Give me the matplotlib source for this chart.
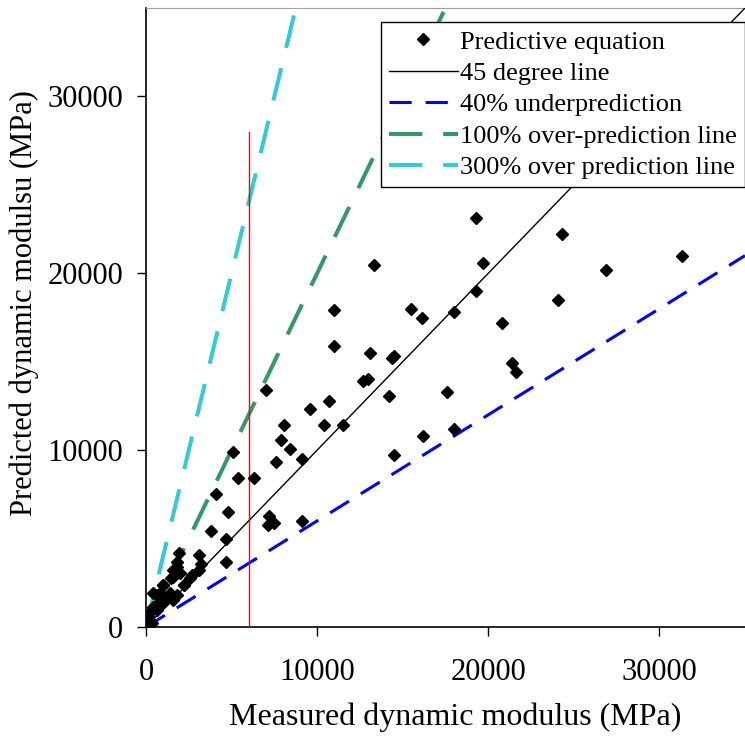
import matplotlib
matplotlib.use("Agg")
import matplotlib.pyplot as plt
import numpy as np

plt.rcParams['font.family'] = ['Liberation Serif', 'DejaVu Serif']
plt.rcParams['lines.scale_dashes'] = False

# measured vs predicted dynamic modulus (MPa)
measured = [
    19300, 24300, 31300, 26900, 19700, 13300, 19300, 11000, 15500, 16100,
    18000, 20800, 24100, 11000, 13100, 14500, 14400, 21400, 21600, 12700,
    13000, 7000, 10700, 9600, 14200, 17600, 8050, 10400, 11500, 7900,
    8400, 9100, 7600, 5100, 16200, 18000, 14500, 5400, 6300, 4100,
    4800, 7200, 7100, 7500, 9100, 3800, 4700, 4700, 1900, 1800,
    3100, 1600, 2000, 3200, 3100, 2700, 1450, 1000, 2200,
    1800, 1600, 1000, 2200, 2600, 430, 820, 1200, 1500, 1600,
    820, 430, 230, 130, 40, 20, 330, 620, 1000, 1400, 1800, 620, 900,
]
predicted = [
    23100, 22200, 21000, 20200, 20600, 20450, 19000, 17900, 18000, 17500,
    17800, 17200, 18500, 15900, 15500, 15300, 15200, 14900, 14400, 13900,
    14000, 13400, 12800, 12300, 13050, 13300, 11400, 11400, 11400, 10600,
    10050, 9500, 9350, 9900, 10800, 11200, 9700, 8400, 8450, 7500,
    6500, 6300, 5750, 5900, 6000, 5400, 4950, 3700, 4200, 3700,
    4050, 3200, 3050, 3550, 3250, 2950, 2750, 2400, 2400,
    3400, 2850, 2350, 2350, 2750, 1900, 1900, 1700, 1700, 1550,
    1450, 1150, 850, 600, 300, 100, 200, 950, 1350, 1900, 1800, 1800, 1600,
]

x_line = np.array([0, 35000])
fill_value = 6000   # vertical reference at 6000 MPa
fill_top = 28000

fig = plt.figure(figsize=(7.45, 7.38), dpi=100)
ax = fig.add_axes([146 / 745, 111 / 738, 599 / 745, 619 / 738])

ax.plot(measured, predicted, 'D', color='black', ms=6.5, ls='none',
        label='Predictive equation', zorder=5)
ax.plot(x_line, x_line, color='black', lw=1.0, label='45 degree line', zorder=3)
ax.plot(x_line, 0.6 * x_line, color='#0000ff', lw=2.2, dashes=(16, 10),
        label='40% underprediction', zorder=3)
ax.plot(x_line, 2 * x_line, color='#339966', lw=2.9, dashes=(24, 15),
        label='100% over-prediction line', zorder=3)
ax.plot(x_line, 4 * x_line, color='#33cccc', lw=2.9, dashes=(24, 15),
        label='300% over prediction line', zorder=3)
ax.plot([fill_value, fill_value], [0, fill_top], color='#ff0000', lw=1.0, zorder=4)

ax.set_xlim(0, 35000)
ax.set_ylim(0, 35000)
ax.set_xticks([0, 10000, 20000, 30000])
ax.set_yticks([0, 10000, 20000, 30000])
ax.tick_params(direction='out', length=6.5, width=1, labelsize=22)
ax.tick_params(axis='x', pad=16)
ax.tick_params(axis='y', pad=10)

ax.spines['right'].set_visible(False)
ax.spines['top'].set_color('#a0a0a0')
for s in ['left', 'bottom']:
    ax.spines[s].set_linewidth(1.2)

ax.set_xlabel('Measured dynamic modulus (MPa)', fontsize=23, labelpad=11)
ax.set_ylabel('Predicted dynamic modulsu (MPa)', fontsize=22, labelpad=6)
ax.xaxis.label.set_x(0.517)
ax.yaxis.label.set_y(0.524)

leg = ax.legend(loc='upper right', bbox_to_anchor=(1.0, 0.977), fontsize=19,
                frameon=True, fancybox=False, framealpha=1, edgecolor='black',
                borderpad=0.3, labelspacing=0.3, handlelength=2.6,
                handletextpad=0.1, borderaxespad=0)
leg.get_frame().set_linewidth(1.0)

fig.savefig('out.png', dpi=100)
